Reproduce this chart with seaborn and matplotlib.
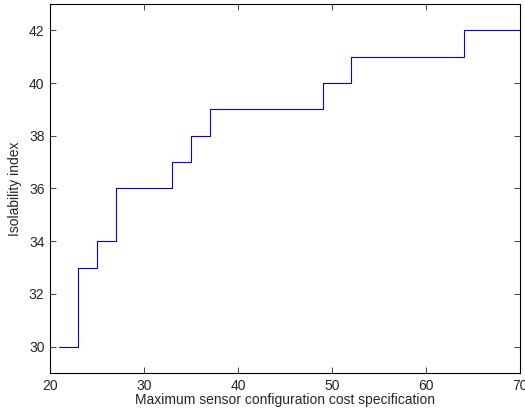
import matplotlib
matplotlib.use("Agg")
import matplotlib.pyplot as plt
import seaborn as sns

# Step data: max cost specification vs isolability index
cost_spec = [21, 23, 25, 27, 33, 35, 37, 49, 52, 64, 70]
isolability = [30, 33, 34, 36, 37, 38, 39, 40, 41, 42, 42]

sns.set_style("ticks")
plt.rcParams["font.family"] = ["Liberation Sans", "DejaVu Sans"]

fig = plt.figure(figsize=(5.25, 4.18), dpi=100)
ax = fig.add_axes([50 / 525, 45 / 418, 470 / 525, 369 / 418])

sns.lineplot(x=cost_spec, y=isolability, drawstyle="steps-post",
             color="#0000ff", linewidth=0.8, ax=ax)

ax.set_xlim(20, 70)
ax.set_ylim(29, 43)
ax.set_xticks(range(20, 71, 10))
ax.set_yticks(range(30, 43, 2))
ax.tick_params(direction="in", top=True, right=True, labelsize=10,
               length=4, width=0.6, pad=4)
for s in ax.spines.values():
    s.set_visible(True)
    s.set_linewidth(0.8)
    s.set_color("black")

ax.set_xlabel("Maximum sensor configuration cost specification", fontsize=10, labelpad=0)
ax.set_ylabel("Isolability index", fontsize=10, labelpad=5)

fig.savefig("out.png", dpi=100)
